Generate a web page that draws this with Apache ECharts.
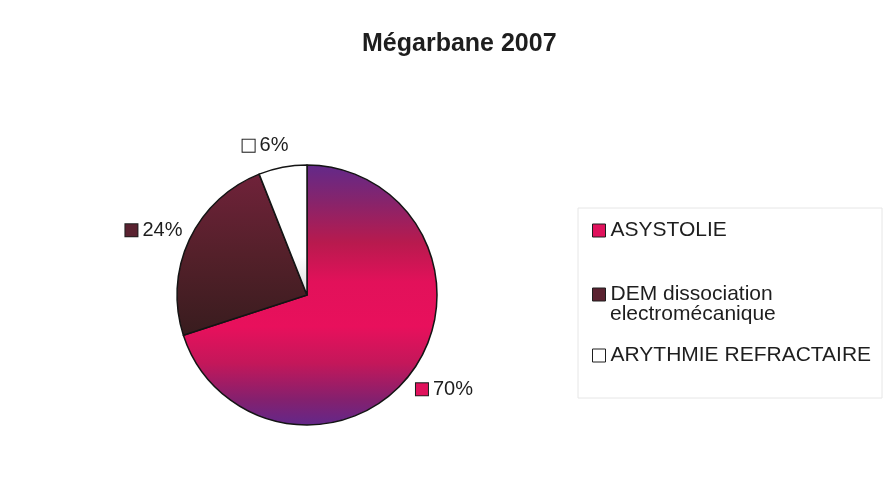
<!DOCTYPE html>
<html>
<head>
<meta charset="utf-8">
<title>Mégarbane 2007</title>
<script src="https://cdn.jsdelivr.net/npm/echarts@6/dist/echarts.min.js"></script>
<style>
  html, body { margin: 0; padding: 0; background: #fff; }
  #chart { width: 893px; height: 498px; }
</style>
</head>
<body>
<div id="chart"></div>
<script>
// données
const causes = ['ASYSTOLIE', 'DEM dissociation electromécanique', 'ARYTHMIE REFRACTAIRE']
const shares = [70, 24, 6]

const FONT = '"Liberation Sans", Arial, sans-serif'
const INK = '#1e1e1e'

// petits carrés de couleur (légende + étiquettes)
const keyColors = ['#e0125c', '#5a2230', '#ffffff']
// décalage des étiquettes par rapport à la position "outside"
const labelNudge = [[-14, 5], [13, 0], [10, 0]]

const grad = echarts.graphic.LinearGradient
const sliceFills = [
  new grad(0, 0, 0, 1, [
    { offset: 0, color: '#62298a' },
    { offset: 0.14, color: '#86246c' },
    { offset: 0.3, color: '#b81a4e' },
    { offset: 0.45, color: '#e2115a' },
    { offset: 0.62, color: '#e8105c' },
    { offset: 0.76, color: '#c4175a' },
    { offset: 0.9, color: '#84206e' },
    { offset: 1, color: '#62288a' }
  ]),
  new grad(0, 0, 0, 1, [
    { offset: 0, color: '#70223a' },
    { offset: 0.5, color: '#54202a' },
    { offset: 1, color: '#381c1e' }
  ]),
  new grad(0, 0, 0, 1, [
    { offset: 0, color: '#ffffff' },
    { offset: 0.7, color: '#ffffff' },
    { offset: 1, color: '#dcdcdc' }
  ])
]

const chart = echarts.init(document.getElementById('chart'))

const legendBase = {
  orient: 'vertical',
  left: 592,
  padding: 0,
  icon: 'rect',
  itemWidth: 13,
  itemHeight: 13,
  selectedMode: false,
  textStyle: { fontSize: 21, lineHeight: 20, color: INK, fontFamily: FONT }
}
const legendItem = i => ({
  name: causes[i],
  itemStyle: { color: keyColors[i], borderColor: INK, borderWidth: 1 }
})

const rich = {
  v: { fontSize: 20, color: INK, fontFamily: FONT, padding: [0, 0, 0, 5] }
}
keyColors.forEach((c, i) => {
  rich['k' + i] = { width: 12, height: 12, backgroundColor: c, borderColor: INK, borderWidth: 1 }
})

chart.setOption({
  backgroundColor: '#fff',
  animation: false,
  title: {
    text: 'Mégarbane 2007',
    left: 362,
    top: 32,
    padding: 0,
    textStyle: { fontSize: 25, fontWeight: 'bold', color: INK, fontFamily: FONT }
  },
  legend: [
    Object.assign({}, legendBase, { top: 220, data: [legendItem(0)] }),
    Object.assign({}, legendBase, {
      top: 284,
      data: [legendItem(1)],
      formatter: () => 'DEM dissociation'
    }),
    Object.assign({}, legendBase, { top: 345, data: [legendItem(2)] })
  ],
  graphic: [
    {
      type: 'rect',
      shape: { x: 578, y: 208, width: 304, height: 190 },
      style: { fill: 'none', stroke: '#e6e6e6', lineWidth: 1 },
      silent: true
    },
    {
      type: 'text',
      left: 610,
      top: 304,
      style: { text: 'electromécanique', fontSize: 21, fill: INK, fontFamily: FONT },
      silent: true
    }
  ],
  series: [
    {
      type: 'pie',
      center: [307, 295],
      radius: 130,
      startAngle: 90,
      clockwise: true,
      avoidLabelOverlap: false,
      itemStyle: { borderColor: '#141414', borderWidth: 1.5 },
      label: {
        position: 'outside',
        distanceToLabelLine: 0,
        formatter: p => `{k${p.dataIndex}|}{v|${Math.round(p.percent)}%}`,
        rich: rich
      },
      labelLine: { show: false, length: 22, length2: 0 },
      labelLayout: p => ({ dx: labelNudge[p.dataIndex][0], dy: labelNudge[p.dataIndex][1] }),
      emphasis: { disabled: true },
      data: causes.map((name, i) => ({
        name: name,
        value: shares[i],
        itemStyle: { color: sliceFills[i] }
      }))
    }
  ]
})
</script>
</body>
</html>
